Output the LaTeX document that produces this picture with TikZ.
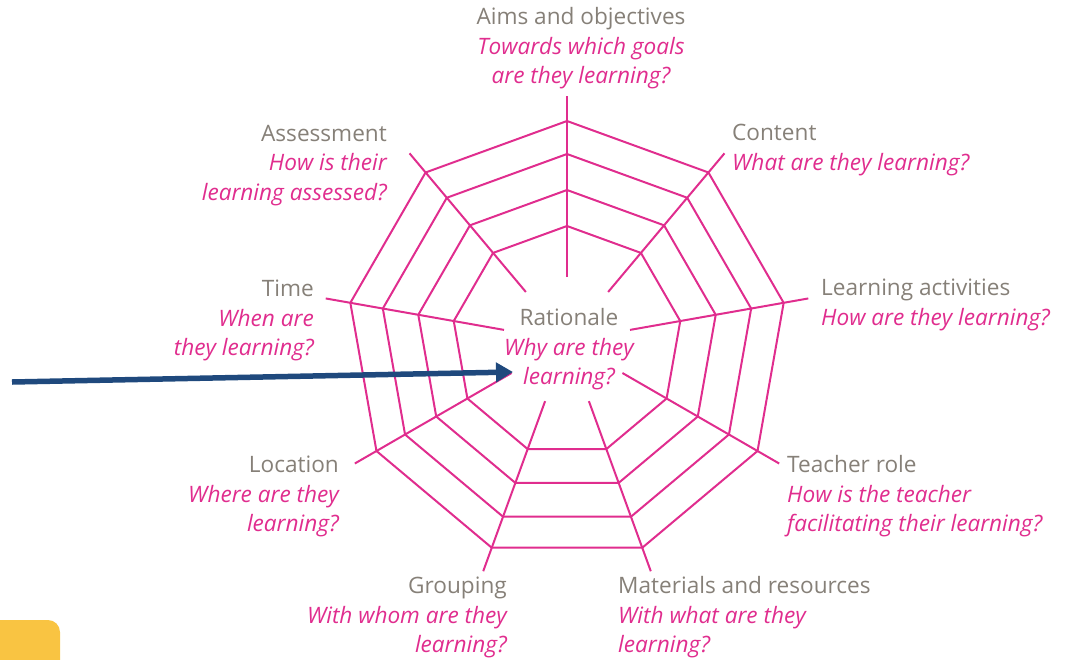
\documentclass[tikz,border=0pt]{standalone}
\usepackage{fontspec}
\setmainfont{Open Sans}
\usetikzlibrary{arrows.meta}

\definecolor{webpink}{RGB}{224,45,142}
\definecolor{headgrey}{RGB}{134,128,120}
\definecolor{arrowblue}{RGB}{31,73,125}
\definecolor{tabyellow}{RGB}{249,196,66}

\newcommand{\hd}[1]{{\color{headgrey}#1}}
\newcommand{\qn}[1]{{\itshape #1}}

\tikzset{
  web/.style={webpink, line width=2pt},
  topic/.style={inner sep=0pt, text=webpink, font=\fontsize{22.6}{29.5}\selectfont},
  pointer/.style={arrowblue, line width=5.5pt, -{Triangle[length=17pt,width=19pt]}}
}

\begin{document}
\begin{tikzpicture}[x=1pt,y=1pt]
  \useasboundingbox (0,0) rectangle (1066,-659);

  % the web: nine spokes and four rings
  \begin{scope}[shift={(567,-341)}]
    \foreach \k in {0,...,8}
      \draw [web] (90-40*\k:64) -- (90-40*\k:245);
    \foreach \r in {115,151,187,220}
      \draw [web] (90:\r) \foreach \k in {1,...,8} { -- (90-40*\k:\r) } -- cycle;
  \end{scope}

  % the ten questions
  \node [topic, align=center] (aims) at (581,-48.5)
    {\hd{Aims and objectives}\\\qn{Towards which goals}\\\qn{are they learning?}};
  \node [topic, align=left, anchor=west] (content) at (732,-150)
    {\hd{Content}\\\qn{What are they learning?}};
  \node [topic, align=left, anchor=west] (activities) at (821,-305)
    {\hd{Learning activities}\\\qn{How are they learning?}};
  \node [topic, align=left, anchor=west] (teacher) at (787,-496.5)
    {\hd{Teacher role}\\\qn{How is the teacher}\\\qn{facilitating their learning?}};
  \node [topic, align=left, anchor=west] (materials) at (618,-617.5)
    {\hd{Materials and resources}\\\qn{With what are they}\\\qn{learning?}};
  \node [topic, align=right, anchor=east] (grouping) at (507,-617.5)
    {\hd{Grouping}\\\qn{With whom are they}\\\qn{learning?}};
  \node [topic, align=right, anchor=east] (location) at (339,-496.5)
    {\hd{Location}\\\qn{Where are they}\\\qn{learning?}};
  \node [topic, align=right, anchor=east] (time) at (314,-320.5)
    {\hd{Time}\\\qn{When are}\\\qn{they learning?}};
  \node [topic, align=right, anchor=east] (assessment) at (387,-165.5)
    {\hd{Assessment}\\\qn{How is their}\\\qn{learning assessed?}};
  \node [topic, align=center] (rationale) at (569,-349.5)
    {\hd{Rationale}\\\qn{Why are they}\\\qn{learning?}};

  % pointer to the centre
  \coordinate (tail) at (12,-382);
  \coordinate (tip) at (513,-372);
  \draw [pointer] (tail) -- (tip);

  % yellow tab, bottom left
  \fill [tabyellow, rounded corners=12pt] (-20,-680) rectangle (60,-620);
\end{tikzpicture}
\end{document}
